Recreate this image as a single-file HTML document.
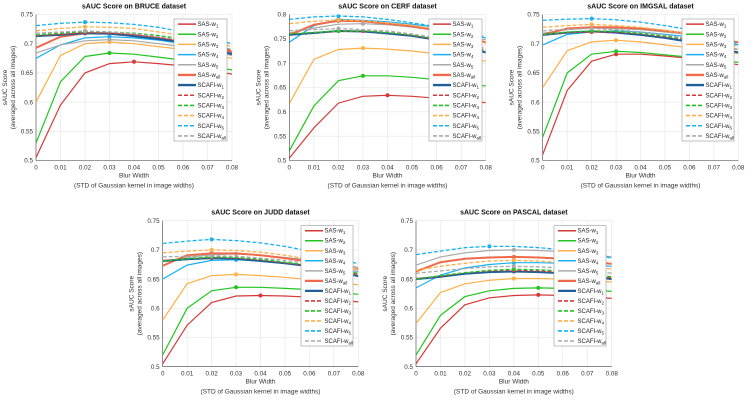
<!DOCTYPE html>
<html><head><meta charset="utf-8"><style>
body{margin:0;background:#fff;width:748px;height:400px;overflow:hidden}
svg{display:block;font-family:"Liberation Sans",sans-serif}
</style></head><body>
<svg id="fig" width="748" height="400" viewBox="0 0 748 400"></svg>
<script>
const xTicks=[0,0.01,0.02,0.03,0.04,0.05,0.06,0.07,0.08];
const xTickLabels=["0","0.01","0.02","0.03","0.04","0.05","0.06","0.07","0.08"];
const seriesNames=["SAS-w1","SAS-w2","SAS-w3","SAS-w4","SAS-w5","SAS-wall","SCAFI-w1","SCAFI-w2","SCAFI-w3","SCAFI-w4","SCAFI-w5","SCAFI-wall"];
const bruce=[
[.505,.595,.650,.666,.669,.666,.662,.655,.648],
[.53,.635,.678,.684,.682,.677,.672,.663,.655],
[.60,.68,.70,.703,.70,.695,.69,.682,.675],
[.675,.698,.71,.712,.71,.706,.70,.692,.684],
[.684,.698,.705,.707,.705,.70,.695,.688,.68],
[.693,.712,.718,.718,.715,.71,.703,.695,.686],
[.713,.715,.718,.717,.713,.708,.702,.693,.682],
[.714,.716,.719,.718,.716,.711,.705,.697,.688],
[.715,.718,.721,.72,.718,.714,.708,.70,.69],
[.722,.726,.729,.728,.726,.72,.714,.706,.695],
[.731,.735,.737,.736,.733,.728,.72,.71,.70],
[.718,.72,.722,.72,.717,.712,.706,.698,.69]];
const cerf=[
[.505,.567,.618,.632,.634,.632,.628,.622,.619],
[.52,.612,.664,.674,.674,.671,.666,.66,.653],
[.617,.708,.728,.731,.729,.725,.719,.712,.704],
[.743,.777,.79,.788,.785,.78,.774,.763,.752],
[.762,.772,.78,.781,.779,.774,.767,.758,.748],
[.758,.779,.787,.786,.781,.776,.768,.755,.743],
[.758,.762,.766,.765,.761,.756,.748,.737,.722],
[.76,.763,.765,.766,.763,.757,.749,.738,.724],
[.76,.763,.766,.766,.763,.758,.75,.74,.726],
[.781,.786,.789,.787,.783,.778,.77,.76,.74],
[.79,.795,.797,.795,.79,.783,.775,.765,.754],
[.767,.769,.771,.769,.766,.76,.752,.742,.73]];
const imgsal=[
[.51,.62,.67,.682,.682,.679,.675,.67,.664],
[.54,.65,.682,.687,.685,.681,.677,.673,.668],
[.625,.688,.703,.706,.703,.698,.693,.688,.683],
[.698,.716,.72,.722,.72,.716,.712,.705,.698],
[.718,.724,.727,.726,.724,.72,.716,.71,.703],
[.715,.726,.728,.728,.726,.722,.717,.71,.702],
[.715,.719,.721,.719,.715,.71,.703,.695,.685],
[.716,.719,.72,.72,.717,.712,.706,.698,.69],
[.716,.72,.722,.721,.718,.713,.707,.70,.69],
[.728,.731,.733,.731,.728,.723,.717,.706,.695],
[.74,.742,.743,.741,.737,.731,.724,.712,.70],
[.722,.725,.726,.724,.72,.715,.708,.70,.69]];
const judd=[
[.505,.571,.61,.621,.622,.621,.619,.615,.611],
[.52,.60,.63,.636,.636,.634,.632,.628,.624],
[.58,.642,.656,.658,.656,.653,.649,.645,.64],
[.65,.674,.682,.683,.681,.677,.673,.668,.663],
[.68,.687,.692,.693,.691,.687,.683,.677,.67],
[.673,.691,.694,.694,.691,.686,.68,.674,.667],
[.681,.684,.686,.685,.681,.677,.672,.664,.655],
[.682,.685,.687,.686,.683,.678,.673,.666,.658],
[.681,.685,.688,.687,.684,.679,.674,.667,.66],
[.695,.698,.70,.699,.696,.691,.684,.676,.667],
[.711,.715,.718,.716,.712,.706,.698,.688,.676],
[.688,.689,.69,.689,.686,.682,.677,.67,.662]];
const pascal=[
[.505,.566,.606,.618,.622,.623,.622,.62,.617],
[.52,.588,.62,.63,.634,.635,.634,.632,.629],
[.574,.627,.642,.648,.651,.651,.65,.648,.645],
[.635,.657,.669,.675,.678,.678,.677,.675,.672],
[.674,.688,.695,.699,.70,.699,.697,.693,.688],
[.663,.679,.685,.687,.688,.687,.685,.681,.676],
[.65,.654,.659,.662,.663,.662,.66,.656,.65],
[.651,.655,.661,.664,.665,.664,.662,.658,.652],
[.65,.656,.661,.665,.667,.666,.664,.66,.654],
[.665,.672,.677,.681,.682,.681,.678,.673,.667],
[.692,.698,.704,.706,.706,.704,.70,.694,.686],
[.66,.664,.668,.671,.672,.671,.669,.665,.66]];
const yTicks75=[0.5,0.55,0.6,0.65,0.7,0.75];
const yTicks80=[0.5,0.55,0.6,0.65,0.7,0.75,0.8];

const colors=["#d43a3a","#22c422","#ffb04a","#1ab0f0","#aaaaaa","#ee6a4a","#1f5f9a","#d43a3a","#22c422","#ffb04a","#1ab0f0","#aaaaaa"];
const widths=[1.2,1.2,1.2,1.2,1.2,2,2,1.3,1.3,1.3,1.3,1.3];
const NS="http://www.w3.org/2000/svg";
const svg=document.getElementById('fig');
function el(tag,attrs,parent){const e=document.createElementNS(NS,tag);for(const k in attrs)e.setAttribute(k,attrs[k]);(parent||svg).appendChild(e);return e;}

const panels=[
{id:"bruce",title:"sAUC Score on BRUCE dataset",data:bruce,x0:36,x1:232,yT:14.5,yB:160.5,ymax:0.75,yt:yTicks75,lx:174,lx2:227,ly:19,ly2:141},
{id:"cerf",title:"sAUC Score on CERF dataset",data:cerf,x0:289.3,x1:485.7,yT:14.5,yB:160.5,ymax:0.8,yt:yTicks80,lx:429,lx2:482,ly:19,ly2:141},
{id:"imgsal",title:"sAUC Score on IMGSAL dataset",data:imgsal,x0:542.7,x1:738.3,yT:14.5,yB:160.5,ymax:0.75,yt:yTicks75,lx:682,lx2:734,ly:19,ly2:141},
{id:"judd",title:"sAUC Score on JUDD dataset",data:judd,x0:162.7,x1:358.3,yT:220.7,yB:366.7,ymax:0.75,yt:yTicks75,lx:301,lx2:353,ly:225.7,ly2:346},
{id:"pascal",title:"sAUC Score on PASCAL dataset",data:pascal,x0:416,x1:611.7,yT:220.7,yB:366.7,ymax:0.75,yt:yTicks75,lx:554,lx2:606,ly:225.7,ly2:346}];

panels.forEach(p=>{
  const g=el('g',{});
  
  
  const xs=v=>p.x0+(v-0)/(0.08)*(p.x1-p.x0);
  const ys=v=>p.yB-(v-0.5)/(p.ymax-0.5)*(p.yB-p.yT);
  const clip=el('clipPath',{id:'c'+p.id},g);
  el('rect',{x:p.x0,y:p.yT,width:p.x1-p.x0,height:p.yB-p.yT},clip);
  xTicks.forEach((t,i)=>{
    el('line',{x1:xs(t),x2:xs(t),y1:p.yT,y2:p.yB,stroke:"#e4e4e4","stroke-width":0.6},g);
    const tx=el('text',{x:xs(t),y:p.yB+9,"font-size":6.3,fill:"#333","text-anchor":"middle"},g);
    tx.textContent=xTickLabels[i];
    
    
  });
  p.yt.forEach(t=>{
    el('line',{x1:p.x0,x2:p.x1,y1:ys(t),y2:ys(t),stroke:"#e4e4e4","stroke-width":0.6},g);
    const ty=el('text',{x:p.x0-3,y:ys(t)+2.2,"font-size":6.3,fill:"#333","text-anchor":"end"},g);
    ty.textContent=String(t);
    
    
  });
  el('line',{x1:p.x0,x2:p.x0,y1:p.yT,y2:p.yB,stroke:"#444","stroke-width":0.6},g);
  el('line',{x1:p.x0,x2:p.x1,y1:p.yB,y2:p.yB,stroke:"#444","stroke-width":0.6},g);
  const sg=el('g',{"clip-path":"url(#c"+p.id+")"},g);
  p.data.forEach((s,k)=>{
    const pts=s.map((v,i)=>xs(xTicks[i]).toFixed(1)+","+ys(v).toFixed(1)).join(" ");
    const pl=el('polyline',{points:pts,fill:"none",stroke:colors[k],"stroke-width":widths[k],"stroke-dasharray":k>=7?"4,2":"none"},sg);
    
    
    let mi=0;s.forEach((v,i)=>{if(v>s[mi])mi=i;});
    const m=el('circle',{cx:xs(xTicks[mi]),cy:ys(s[mi]),r:2,fill:colors[k]},sg);
    
    
  });
  const tt=el('text',{x:(p.x0+p.x1)/2,y:p.yT-6,"font-size":7,"font-weight":"bold",fill:"#111","text-anchor":"middle"},g);
  tt.textContent=p.title;
  
  
  const xl=el('text',{x:(p.x0+p.x1)/2,y:p.yB+17,"font-size":6.5,fill:"#333","text-anchor":"middle"},g);
  xl.textContent="Blur Width";
  
  
  const xl2=el('text',{x:(p.x0+p.x1)/2,y:p.yB+27,"font-size":6.5,fill:"#333","text-anchor":"middle"},g);
  xl2.textContent="(STD of Gaussian kernel in image widths)";
  
  
  const cy=(p.yT+p.yB)/2, lx=p.x0-29;
  const yl=el('text',{x:lx,y:cy,"font-size":6.5,fill:"#333","text-anchor":"middle",transform:`rotate(-90 ${lx} ${cy})`},g);
  yl.textContent="sAUC Score";
  
  
  const lx2=lx+8;
  const yl2=el('text',{x:lx2,y:cy,"font-size":6.5,fill:"#333","text-anchor":"middle",transform:`rotate(-90 ${lx2} ${cy})`},g);
  yl2.textContent="(averaged across all images)";
  
  
  const lg=el('g',{},g);
  
  
  el('rect',{x:p.lx,y:p.ly,width:p.lx2-p.lx,height:p.ly2-p.ly,fill:"#fff",stroke:"#999","stroke-width":0.6},lg);
  const h=(p.ly2-p.ly)/12;
  seriesNames.forEach((n,k)=>{
    const y=p.ly+h*(k+0.5);
    el('line',{x1:p.lx+4,x2:p.lx+22,y1:y,y2:y,stroke:colors[k],"stroke-width":widths[k]+0.3,"stroke-dasharray":k>=7?"4,2":"none"},lg);
    const t=el('text',{x:p.lx+23.5,y:y+2,"font-size":6,fill:"#222"},lg);
    const parts=n.split('-w');
    t.appendChild(document.createTextNode(parts[0]+"-w"));
    const sub=el('tspan',{"font-size":4.5,dy:1.5},t);
    sub.textContent=parts[1];
    
    
  });
});
</script>
</body></html>
